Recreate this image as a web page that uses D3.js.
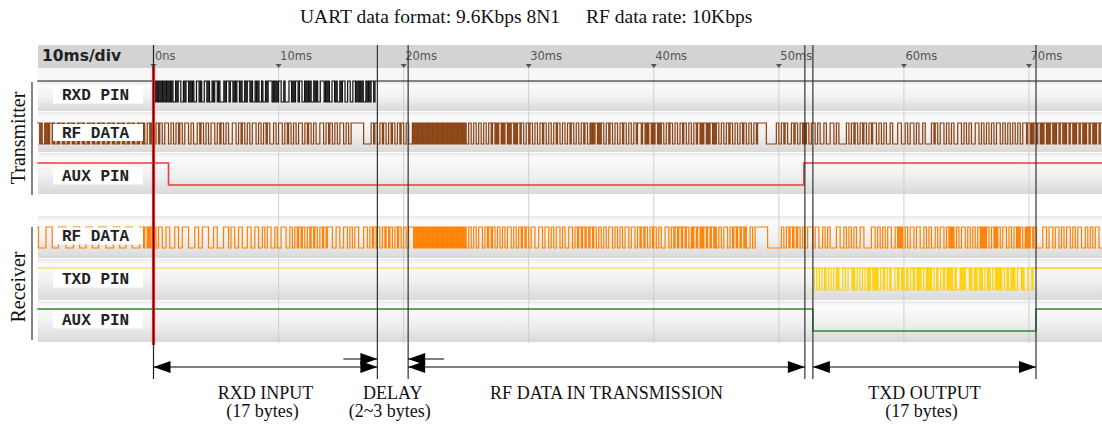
<!DOCTYPE html>
<html><head><meta charset="utf-8">
<script src="https://cdn.jsdelivr.net/npm/d3@7"></script>
<style>
html,body{margin:0;padding:0;background:#fff;}
svg{display:block;}
</style></head><body>
<svg id="c" width="1102" height="425"></svg>
<script>
// ---------------- data ----------------
const titleParts = ["UART data format: 9.6Kbps 8N1", "RF data rate: 10Kbps"];
const divLabel = "10ms/div";
const tickValues = [0, 10, 20, 30, 40, 50, 60, 70];
const tickLabels = ["0ns", "10ms", "20ms", "30ms", "40ms", "50ms", "60ms", "70ms"];
const markerTimes = [17.9, 20.36, 52.08, 52.72, 70.56];
const rowNames = ["RXD PIN", "RF DATA", "AUX PIN", "RF DATA", "TXD PIN", "AUX PIN"];
const groupNames = ["Transmitter", "Receiver"];
const timeRange = [-9.3, 76.2];

// UART payload (17 bytes), start time (ms) and bit time (ms)
const rxdBytes = [0x55, 0xA5, 0x5A, 0x96, 0x69, 0xB4, 0x2D, 0x4B, 0xD2, 0x35, 0xAC, 0x53, 0xCA, 0x65, 0x9A, 0x56, 0x6A];
const txdBytes = [0x33, 0x66, 0xCC, 0x99, 0x5A, 0x36, 0x6C, 0xB2, 0x4D, 0x93, 0x2B, 0xD4, 0x69, 0x96, 0x35, 0xCA, 0x71];
const rxdStart = 0.1, txdStart = 52.72, uartBit = 0.1042;

// AUX levels: [time ms, level]
const auxTx = [[-9.3, 1], [1.2, 0], [52.0, 1]];
const auxRx = [[-9.3, 1], [52.72, 0], [70.56, 1]];

// RF bit segments: [start ms, bits at 0.1 ms each]
const rfTxSegs = [
  [-9.3, "110100101011010010110100101101001011010010110100101101001011010010110100101101001011010011010"],
  [0.0, "0011011001110011001101100111001100011011001100111001101100110001110011011001100111001100110110001100111001101100110011100110110011000111001101100110011100110011"],
  [16.2, "1111110000001101100110110011"],
  [19.0, "0110011011001100"],
  [20.7, "10101010101010101010101010101010101010101010"],
  [25.1, "011001100110011001"],
  [26.9, "101101011010110101101011"],
  [29.3, "01100110110011001101100110011011001100110110011001101100"],
  [34.9, "10101101"],
  [35.7, "01100110110011001101100110011011"],
  [38.9, "1011010110101101"],
  [40.5, "0110011011001100110110011001"],
  [43.3, "10110101101011010110"],
  [45.3, "01100110110011001101100110011011"],
  [48.5, "111110000000011001101100"],
  [50.9, "011011001101"],
  [52.1, "0110011100110001100011100110000001100110"],
  [56.1, "1100110110011011100110011000110000111000"],
  [60.1, "1100111001100011000001101100111001100110"],
  [64.1, "0011100110011000111001100110011001110011"],
  [68.1, "0011001100110011101101011011010110101101"],
  [72.1, "0110110101101101011011010110110101101101"]
];
const rfRxSegs = [
  [-9.3, "1000000111110000011111100000011111000001111100000111111000000111110000011111000000111011010110"],
  [0.0, "1100111000111000011100011111000001110001"],
  [4.0, "1111000011100000111100111000111000011100"],
  [8.0, "011100011001110001100011110"],
  [10.7, "0011001101101100110110110011011011001101"],
  [14.1, "110001110001110011001110000111"],
  [17.1, "0011011011001101101100110110011"],
  [20.2, "00111"],
  [20.7, "10101010101010101010101010101010101010101010"],
  [25.1, "0110011001110011011011001100110"],
  [28.2, "0111001100110110110011100011"],
  [31.0, "1001110011001110011000111001101"],
  [34.1, "1011011011011001100110011100110"],
  [37.2, "0110011100111001101101100110"],
  [40.0, "1100110001110011011011011011001"],
  [43.1, "0110110101101101101001100111"],
  [45.9, "0011011011011010001100111"],
  [48.4, "1111111000000000001100110110110110"],
  [51.8, "01100111"],
  [52.6, "1001110001100110000011100011001100110001"],
  [56.6, "1100000011100110011001110001101010011001"],
  [60.6, "1100111000110011000110011100110101001100"],
  [64.6, "1110011001100110101011001101011001110011"],
  [68.6, "0011010110010101101100000111001110011100"],
  [72.6, "1100111001100111000110011001110"]
];

// annotation spans [from ms, to ms, line1, line2, kind]
const spans = [
  [0, 17.9, "RXD INPUT", "(17 bytes)", "both"],
  [17.9, 20.36, "DELAY", "(2~3 bytes)", "inward"],
  [20.36, 52.08, "RF DATA IN TRANSMISSION", "", "both"],
  [52.72, 70.56, "TXD OUTPUT", "(17 bytes)", "both"]
];

// ---------------- helpers ----------------
function uartLevels(bytes, t0, bit) {
  const pts = [[timeRange[0], 1]];
  let t = t0;
  bytes.forEach(b => {
    pts.push([t, 0]); t += bit;
    for (let i = 0; i < 8; i++) { pts.push([t, (b >> i) & 1]); t += bit; }
    pts.push([t, 1]); t += bit;
  });
  return pts;
}
function segLevels(segs) {
  const pts = [];
  segs.forEach((s, k) => {
    const next = k + 1 < segs.length ? segs[k + 1][0] : timeRange[1];
    for (let j = 0; j < s[1].length; j++) {
      const t = s[0] + j * 0.1;
      if (t >= next - 1e-6) break;
      pts.push([t, +s[1][j]]);
    }
  });
  return pts;
}
function finish(pts) {
  pts = pts.slice();
  pts.push([timeRange[1], pts[pts.length - 1][1]]);
  return pts;
}

// ---------------- drawing ----------------
const svg = d3.select("#c");
const W = 1102;
const x = d3.scaleLinear().domain([0, 70]).range([153.5, 1029]);
const left = 38;

// rows layout
const rows = [
  {hi: 81, lo: 102, band: [82, 111], label: 95},
  {hi: 123, lo: 144, band: [112, 152], label: 132.5},
  {hi: 163, lo: 185, band: [153, 194], label: 176},
  {hi: 227, lo: 248, band: [216, 258], label: 236},
  {hi: 268, lo: 290, band: [259, 300], label: 279},
  {hi: 309, lo: 331, band: [301, 342], label: 320}
];

const defs = svg.append("defs");
const g = defs.append("linearGradient").attr("id", "band").attr("x1", 0).attr("y1", 0).attr("x2", 0).attr("y2", 1);
g.append("stop").attr("offset", "0%").attr("stop-color", "#e9e9e9");
g.append("stop").attr("offset", "12%").attr("stop-color", "#fbfbfb");
g.append("stop").attr("offset", "55%").attr("stop-color", "#f0f0f0");
g.append("stop").attr("offset", "100%").attr("stop-color", "#d9d9d9");

// light area under header
svg.append("rect").attr("x", left).attr("y", 68).attr("width", W - left).attr("height", 14).attr("fill", "#f7f7f7");

// bands
svg.selectAll("rect.band").data(rows).enter().append("rect")
  .attr("class", "band").attr("x", left).attr("width", W - left)
  .attr("y", d => d.band[0]).attr("height", d => d.band[1] - d.band[0])
  .attr("fill", "url(#band)");

// gridlines
svg.selectAll("line.grid").data(tickValues).enter().append("line")
  .attr("x1", d => x(d)).attr("x2", d => x(d)).attr("y1", 68).attr("y2", 343)
  .attr("stroke", "#cfcfcf").attr("stroke-width", 1);

// header bar
svg.append("rect").attr("x", left).attr("y", 45).attr("width", W - left).attr("height", 23).attr("fill", "#d3d3d3");
svg.append("text").attr("x", 42).attr("y", 61).text(divLabel)
  .attr("font-family", "DejaVu Sans, Verdana, sans-serif").attr("font-weight", "bold").attr("font-size", 15.5).attr("fill", "#222");

const axis = d3.axisBottom(x).tickValues(tickValues).tickFormat((d, i) => tickLabels[i]).tickSize(0).tickPadding(0);
const ax = svg.append("g").attr("transform", "translate(0,50)").call(axis);
ax.select(".domain").remove();
ax.selectAll("text").attr("text-anchor", "start").attr("dx", 1).attr("y", 2)
  .attr("font-family", "DejaVu Sans, Verdana, sans-serif").attr("font-size", 11.5).attr("fill", "#555");
// tick triangles
svg.selectAll("path.tri").data(tickValues).enter().append("path")
  .attr("d", d => `M${x(d) - 3},64 L${x(d) + 3},64 L${x(d)},68 Z`).attr("fill", "#555");

// signals
const line = d3.line().curve(d3.curveStepAfter).x(d => x(d[0]));
function drawSignal(pts, row, color, width) {
  const y = d3.scaleLinear().domain([0, 1]).range([row.lo, row.hi]);
  svg.append("path").datum(finish(pts))
    .attr("d", line.y(d => y(d[1])))
    .attr("fill", "none").attr("stroke", color).attr("stroke-width", width)
    .attr("stroke-linejoin", "miter");
}
drawSignal(uartLevels(rxdBytes, rxdStart, uartBit), rows[0], "#111", 1.2);
drawSignal(segLevels(rfTxSegs), rows[1], "#8b4010", 1.2);
drawSignal(auxTx, rows[2], "#ee3a3a", 1.6);
drawSignal(segLevels(rfRxSegs), rows[3], "#ff8000", 1.2);
// TXD: idle line lighter yellow, data gold
drawSignal([[timeRange[0], 1]], rows[4], "#ffe070", 1.6);
drawSignal(uartLevels(txdBytes, txdStart, uartBit).filter(p => p[0] >= txdStart - 1e-6), rows[4], "#ffd000", 1.2);
drawSignal(auxRx, rows[5], "#2e8b2e", 1.6);

// label boxes
const lb = svg.selectAll("g.lbl").data(rows).enter().append("g");
lb.append("rect").attr("x", 53).attr("width", 90).attr("y", d => d.label - 8.5).attr("height", 17).attr("fill", "#fff");
lb.append("text").attr("x", 62).attr("y", d => d.label + 5).text((d, i) => rowNames[i])
  .attr("font-family", "Liberation Mono, Courier New, monospace").attr("font-weight", "bold")
  .attr("font-size", 16).attr("fill", "#222");

// group labels
const groups = [{y0: 82, y1: 195, c: 138}, {y0: 227, y1: 340, c: 287}];
groups.forEach((gp, i) => {
  svg.append("line").attr("x1", 32).attr("x2", 32).attr("y1", gp.y0).attr("y2", gp.y1).attr("stroke", "#333").attr("stroke-width", 1.2);
  svg.append("text").attr("transform", `translate(25,${gp.c}) rotate(-90)`).attr("text-anchor", "middle")
    .text(groupNames[i]).attr("font-family", "Liberation Serif, Times New Roman, serif").attr("font-size", 20).attr("fill", "#111");
});

// cursor at 0
svg.append("line").attr("x1", x(0)).attr("x2", x(0)).attr("y1", 45).attr("y2", 379).attr("stroke", "#222").attr("stroke-width", 1.2);
svg.append("line").attr("x1", x(0)).attr("x2", x(0)).attr("y1", 66).attr("y2", 345).attr("stroke", "#e02828").attr("stroke-width", 3.2);
svg.append("line").attr("x1", x(0)).attr("x2", x(0)).attr("y1", 66).attr("y2", 345).attr("stroke", "#500").attr("stroke-width", 1);

// marker lines
svg.selectAll("line.mk").data(markerTimes).enter().append("line")
  .attr("x1", d => x(d)).attr("x2", d => x(d)).attr("y1", 45).attr("y2", 379)
  .attr("stroke", "#333").attr("stroke-width", 1.2);

// title
const serif = "Liberation Serif, Times New Roman, serif";
svg.append("text").attr("x", 300).attr("y", 23).text(titleParts[0]).attr("font-family", serif).attr("font-size", 19.5).attr("fill", "#111");
svg.append("text").attr("x", 586).attr("y", 23).text(titleParts[1]).attr("font-family", serif).attr("font-size", 19.5).attr("fill", "#111");

// annotations
const ay = 367, ady = 359, ah = 17, aw = 6;
function head(xTip, y, dir) { // dir: -1 pointing left, +1 pointing right
  svg.append("path").attr("d", `M${xTip},${y} L${xTip - dir * ah},${y - aw} L${xTip - dir * ah},${y + aw} Z`).attr("fill", "#000");
}
spans.forEach(s => {
  const x0 = x(s[0]), x1 = x(s[1]);
  if (s[4] === "both") {
    svg.append("line").attr("x1", x0).attr("x2", x1).attr("y1", ay).attr("y2", ay).attr("stroke", "#000").attr("stroke-width", 1.2);
    head(x0, ay, -1); head(x1, ay, 1);
  } else {
    svg.append("line").attr("x1", x0 - 34).attr("x2", x0).attr("y1", ady).attr("y2", ady).attr("stroke", "#000").attr("stroke-width", 1.2);
    head(x0, ady, 1);
    svg.append("line").attr("x1", x1).attr("x2", x1 + 36).attr("y1", ady).attr("y2", ady).attr("stroke", "#000").attr("stroke-width", 1.2);
    head(x1, ady, -1);
  }
  const cx = (x0 + x1) / 2;
  svg.append("text").attr("x", cx).attr("y", 399).attr("text-anchor", "middle").text(s[2]).attr("font-family", serif).attr("font-size", 18).attr("fill", "#111");
  if (s[3]) svg.append("text").attr("x", cx - 3).attr("y", 417).attr("text-anchor", "middle").text(s[3]).attr("font-family", serif).attr("font-size", 18).attr("fill", "#111");
});
</script>
</body></html>
